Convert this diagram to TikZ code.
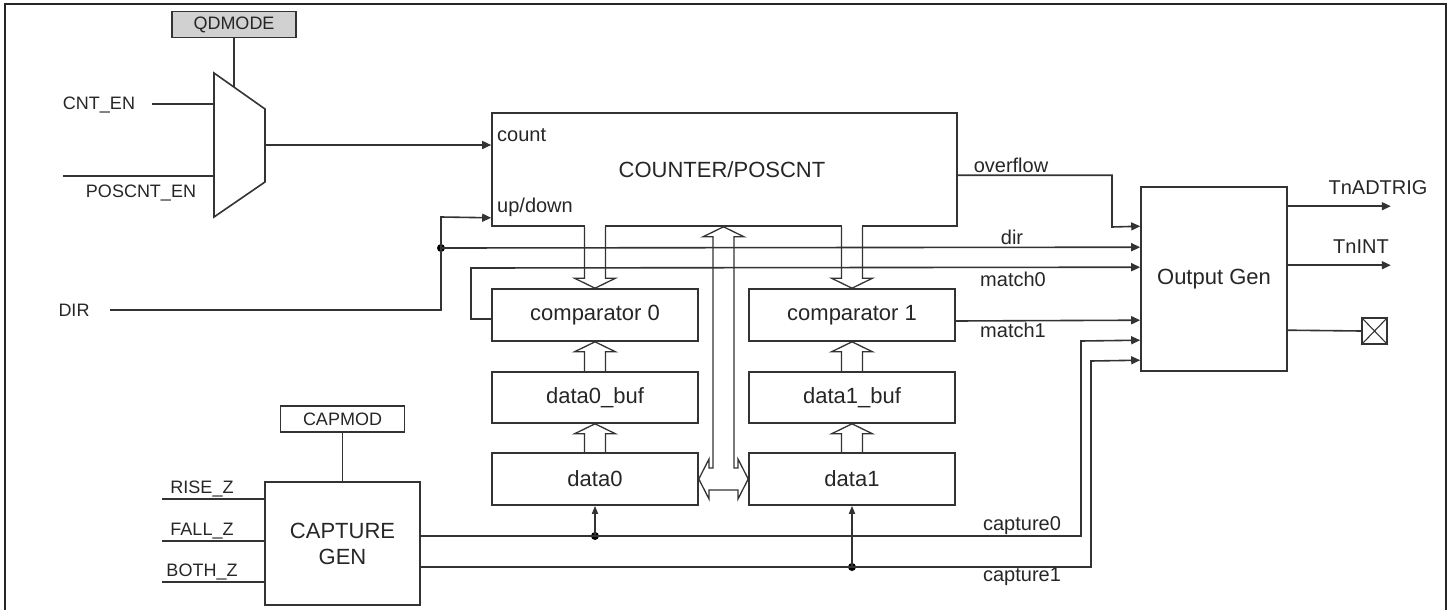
\documentclass[tikz,border=0pt]{standalone}
\usepackage{fontspec}
\setmainfont{Liberation Sans}
\usetikzlibrary{arrows.meta,calc}
\newcommand\hollowarrow[2]{%
  \coordinate (hb) at ($(#2)!10pt!(#1)$);
  \draw[hollow] ($(#1)+(-10.5,0)$) -- ($(hb)+(-10.5,0)$) -- ($(hb)+(-20.5,0)$) -- (#2) -- ($(hb)+(20.5,0)$) -- ($(hb)+(10.5,0)$) -- ($(#1)+(10.5,0)$);}
\begin{document}
\begin{tikzpicture}[x=1pt,y=-1pt,
  ln/.style={draw=black!80, line width=1.6pt},
  wire/.style={ln},
  sig/.style={ln, -{Triangle[length=9pt,width=8pt]}},
  sigs/.style={ln, -{Triangle[length=8pt,width=6pt]}},
  blk/.style={ln, rectangle, inner sep=0pt, font=\fontsize{22}{26}\selectfont, text=black!85, align=center},
  lbl/.style={inner sep=0pt, font=\fontsize{20}{22}\selectfont, text=black!85},
  sml/.style={inner sep=0pt, font=\fontsize{18}{20}\selectfont, text=black!85},
  jdot/.style={circle, fill=black, inner sep=0pt, minimum size=8pt},
  hollow/.style={ln, line width=1.3pt, line join=miter}]

\useasboundingbox (0,0) rectangle (1453,610);
\draw[line width=2.5pt, black!85] (5,612) -- (5,4) -- (1446,4) -- (1446,612);

% ---------- QDMODE and multiplexer ----------
\node[blk, fill=black!18, minimum width=124pt, minimum height=26pt, font=\fontsize{18}{20}\selectfont] (qdmode) at (234,24.5) {QDMODE};
\draw[ln] (214,73) -- (265,109) -- (265,182) -- (214,217) -- cycle;
\coordinate (mq) at (234,87.1);
\coordinate (min1) at (214,104);
\coordinate (min2) at (214,176);
\coordinate (mout) at (265,145);
\draw[wire] (qdmode.south) -- (mq);

\node[sml] (cnten) at (99,105) {CNT\_EN};
\draw[wire] (min1) -- ++(-62,0);
\node[sml] (poscnt) at (141,193) {POSCNT\_EN};
\draw[wire] (min2) -- ++(-151,0);

% ---------- counter ----------
\node[blk, minimum width=465pt, minimum height=113pt] (counter) at (724.5,169.5) {};
\node[blk, draw=none] (cntlbl) at (722,170) {COUNTER/POSCNT};
\node[lbl, anchor=west] (countlbl) at (497,135) {count};
\node[lbl, anchor=west] (udlbl) at (497,207) {up/down};
\draw[sig] (mout) -- (mout -| counter.west);

% ---------- comparators / buffers / data ----------
\node[blk, minimum width=206pt, minimum height=52pt] (comp0) at (595,315) {comparator 0};
\node[blk, minimum width=206pt, minimum height=52pt] (comp1) at (852,315) {comparator 1};
\node[blk, minimum width=206pt, minimum height=51pt] (buf0) at (595,397.5) {data0\_buf};
\node[blk, minimum width=206pt, minimum height=51pt] (buf1) at (852,397.5) {data1\_buf};
\node[blk, minimum width=206pt, minimum height=52pt] (data0) at (595,479) {data0};
\node[blk, minimum width=206pt, minimum height=52pt] (data1) at (852,479) {data1};

% ---------- output gen ----------
\node[blk, minimum width=146pt, minimum height=184pt] (outgen) at (1214,279) {Output Gen};
\coordinate (oin1) at ($(outgen.north west)+(0,40)$);
\coordinate (oin2) at ($(outgen.north west)+(0,61)$);
\coordinate (oin3) at ($(outgen.north west)+(0,81)$);
\coordinate (oin4) at ($(outgen.north west)+(0,134)$);
\coordinate (oin5) at ($(outgen.north west)+(0,154)$);
\coordinate (oin6) at ($(outgen.north west)+(0,174)$);
\coordinate (oout1) at ($(outgen.north east)+(0,20)$);
\coordinate (oout2) at ($(outgen.north east)+(0,79)$);
\coordinate (oout3) at ($(outgen.north east)+(0,144)$);

\draw[sig] (oout1) -- ++(103,0);
\draw[sig] (oout2) -- ++(103,0);
\node[lbl] (tnad) at (1378,188) {TnADTRIG};
\node[lbl] (tnint) at (1361,247) {TnINT};
\node[ln, rectangle, minimum width=25pt, minimum height=26pt, inner sep=0pt] (nc) at (1374.5,331) {};
\draw[ln, line width=1.1pt] (nc.north west) -- (nc.south east) (nc.south west) -- (nc.north east);
\draw[wire] (oout3) -- (nc.west);

% ---------- capture ----------
\node[blk, minimum width=124pt, minimum height=26pt, font=\fontsize{18}{20}\selectfont] (capmod) at (342.5,419) {CAPMOD};
\node[blk, minimum width=155pt, minimum height=123pt] (capgen) at (342.5,543.5) {CAPTURE\\GEN};
\draw[wire] (capmod.south) -- (capgen.north);
\coordinate (cgr) at (265,499);
\coordinate (cgf) at (265,541);
\coordinate (cgb) at (265,582);
\draw[wire] (cgr) -- ++(-103,0);
\draw[wire] (cgf) -- ++(-103,0);
\draw[wire] (cgb) -- ++(-103,0);
\node[sml] (rise) at (202,489) {RISE\_Z};
\node[sml] (fall) at (202,531) {FALL\_Z};
\node[sml] (both) at (202,572) {BOTH\_Z};

\coordinate (cap0) at (420,536);
\coordinate (cap1) at (420,567);
\node[jdot] (d0) at (595,536) {};
\node[jdot] (d1) at (852,567) {};
\draw[sig] (cap0) -| (1081,341) -- (oin5);
\draw[sig] (cap1) -| (1091,361) -- (oin6);
\draw[sigs] (d0.center) -- (data0.south);
\draw[sigs] (d1.center) -- (data1.south);
\node[lbl] (cap0lbl) at (1022,526) {capture0};
\node[lbl] (cap1lbl) at (1022,577) {capture1};

% ---------- signals to output gen ----------
\coordinate (ovf) at ($(counter.north east)+(0,63)$);
\draw[sig] (ovf) -| (1112,227) -- (oin1);
\node[lbl] (ovflbl) at (1011,165) {overflow};

\node[sml] (dirlbl) at (74,310) {DIR};
\coordinate (dirin) at (110,310);
\coordinate (udpin) at ($(counter.south west)+(0,-9)$);
\node[jdot] (jd) at (441,248) {};
\draw[sig] (dirin) -| (441,217) -- (udpin);
\draw[sig] (jd.center) -- (oin2);
\node[lbl] (dirl) at (1012,237) {dir};

\coordinate (c0w) at ($(comp0.west)+(0,4)$);
\draw[sig] (c0w) -| (471,268) -- (oin3);
\node[lbl] (m0lbl) at (1013,279) {match0};
\draw[sig] ($(comp1.east)+(0,6)$) -- (oin4);
\node[lbl] (m1lbl) at (1013,330) {match1};

% ---------- hollow bus arrows ----------
\coordinate (c0top) at (comp0.north |- counter.south);
\coordinate (c1top) at (comp1.north |- counter.south);
\fill[white] ($(c0top)+(-9.6,-2)$) rectangle ($(c0top)+(9.6,2)$);
\fill[white] ($(c1top)+(-9.6,-2)$) rectangle ($(c1top)+(9.6,2)$);
\hollowarrow{c0top}{comp0.north}
\hollowarrow{c1top}{comp1.north}
\hollowarrow{buf0.north}{comp0.south}
\hollowarrow{buf1.north}{comp1.south}
\hollowarrow{data0.north}{buf0.south}
\hollowarrow{data1.north}{buf1.south}

\coordinate (bt) at ($(data0.east)!0.5!(data1.west)$);
\coordinate (tt) at (bt |- counter.south);
\draw[hollow] ($(tt)+(-10.5,10)$) -- ($(tt)+(-20.5,10)$) -- (tt) -- ($(tt)+(20.5,10)$) -- ($(tt)+(10.5,10)$)
  -- ($(bt)+(10.5,-11)$) -- ($(bt)+(14.5,-11)$) -- ($(bt)+(14.5,-20)$) -- (data1.west)
  -- ($(bt)+(14.5,20)$) -- ($(bt)+(14.5,11)$) -- ($(bt)+(-14.5,11)$) -- ($(bt)+(-14.5,20)$)
  -- (data0.east) -- ($(bt)+(-14.5,-20)$) -- ($(bt)+(-14.5,-11)$) -- ($(bt)+(-10.5,-11)$) -- cycle;
\end{tikzpicture}
\end{document}
